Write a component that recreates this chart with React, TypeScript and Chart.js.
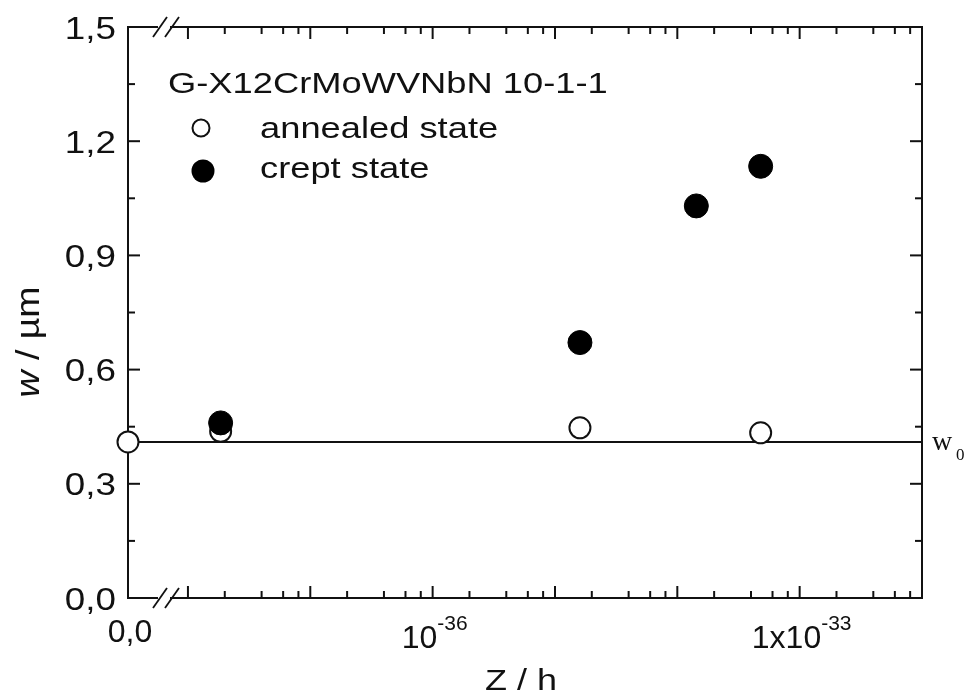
import React, { useEffect, useRef } from "react";
import { Chart, registerables } from "chart.js";

Chart.register(...registerables);

// ---- data ----
const X_MIN = -38.49; // log10 position where Z = 0 sits (axis break)
const X_MAX = -32;
const annealedZ = [0, 1.85e-38, 1.6e-35, 4.8e-34];
const annealedW = [0.41, 0.438, 0.447, 0.434];
const creptZ = [1.85e-38, 1.6e-35, 1.43e-34, 4.8e-34];
const creptW = [0.46, 0.671, 1.03, 1.134];
const W0 = 0.41;
const Y_MAJOR = [0, 0.3, 0.6, 0.9, 1.2, 1.5];
const Y_MINOR = [0.15, 0.45, 0.75, 1.05, 1.35];
const DECADES = [-38, -37, -36, -35, -34, -33, -32];
const MINOR_MULT = [2, 4, 6, 8];
const X_LABELS = [
  { u: X_MIN, base: "0,0", sup: "" },
  { u: -36, base: "10", sup: "-36" },
  { u: -33, base: "1x10", sup: "-33" },
];
const TITLE = "G-X12CrMoWVNbN 10-1-1";
const LEGEND = ["annealed state", "crept state"];

function toU(z: number) {
  return z > 0 ? Math.log10(z) : X_MIN;
}

const SANS = '"Liberation Sans", Arial, sans-serif';
const SERIF = '"Liberation Serif", "Times New Roman", serif';
const INK = "#111";

function drawText(
  ctx: CanvasRenderingContext2D,
  text: string,
  x: number,
  y: number,
  font: string,
  sx: number,
  align: "left" | "center" | "right"
) {
  ctx.save();
  ctx.font = font;
  ctx.textBaseline = "alphabetic";
  ctx.textAlign = "left";
  const w = ctx.measureText(text).width * sx;
  const x0 = align === "left" ? x : align === "center" ? x - w / 2 : x - w;
  ctx.translate(x0, y);
  ctx.scale(sx, 1);
  ctx.fillStyle = INK;
  ctx.fillText(text, 0, 0);
  ctx.restore();
  return w;
}

function seg(ctx: CanvasRenderingContext2D, x1: number, y1: number, x2: number, y2: number) {
  ctx.beginPath();
  ctx.moveTo(x1, y1);
  ctx.lineTo(x2, y2);
  ctx.stroke();
}

const framePlugin = {
  id: "frame",
  beforeDatasetsDraw(chart: any) {
    const ctx: CanvasRenderingContext2D = chart.ctx;
    const { left, right, top, bottom } = chart.chartArea;
    const xs = chart.scales.x;
    const ys = chart.scales.y;
    ctx.save();
    ctx.strokeStyle = INK;
    ctx.lineWidth = 2;
    ctx.lineCap = "square";
    seg(ctx, left, top, left, bottom);
    seg(ctx, right, top, right, bottom);
    ctx.lineCap = "butt";
    const b1 = left + 32;
    const b2 = left + 44;
    for (const yy of [top, bottom]) {
      seg(ctx, left - 1, yy, b1 - 2, yy);
      seg(ctx, b2 - 2, yy, right + 1, yy);
      ctx.lineWidth = 1.8;
      seg(ctx, b1 - 7, yy + 10, b1 + 7, yy - 10);
      seg(ctx, b2 - 7, yy + 10, b2 + 7, yy - 10);
      ctx.lineWidth = 2;
    }
    // x ticks (inward) bottom & top
    const majorU = DECADES;
    const minorU: number[] = [];
    for (const d of DECADES.slice(0, -1)) for (const k of MINOR_MULT) minorU.push(d + Math.log10(k));
    for (const u of majorU) {
      const px = xs.getPixelForValue(u);
      seg(ctx, px, bottom, px, bottom - 12);
      seg(ctx, px, top, px, top + 12);
    }
    for (const u of minorU) {
      const px = xs.getPixelForValue(u);
      seg(ctx, px, bottom, px, bottom - 7);
      seg(ctx, px, top, px, top + 7);
    }
    // y ticks (inward) left & right
    for (const v of Y_MAJOR) {
      const py = ys.getPixelForValue(v);
      seg(ctx, left, py, left + 12, py);
      seg(ctx, right, py, right - 12, py);
    }
    for (const v of Y_MINOR) {
      const py = ys.getPixelForValue(v);
      seg(ctx, left, py, left + 7, py);
      seg(ctx, right, py, right - 7, py);
    }
    ctx.restore();
  },
  afterDraw(chart: any) {
    const ctx: CanvasRenderingContext2D = chart.ctx;
    const { left, right, top, bottom } = chart.chartArea;
    const xs = chart.scales.x;
    const ys = chart.scales.y;
    // y tick labels
    for (const v of Y_MAJOR) {
      const py = ys.getPixelForValue(v);
      drawText(ctx, v.toFixed(1).replace(".", ","), left - 12, py + 11.5, `32px ${SANS}`, 1.15, "right");
    }
    // x tick labels
    for (const l of X_LABELS) {
      const px = xs.getPixelForValue(l.u);
      ctx.save();
      ctx.font = `32px ${SANS}`;
      const wb = ctx.measureText(l.base).width;
      ctx.font = `21px ${SANS}`;
      const ws = l.sup ? ctx.measureText(l.sup).width : 0;
      ctx.restore();
      const x0 = px + 2 - (wb + ws) / 2;
      const base = l.sup ? bottom + 50 : bottom + 44;
      drawText(ctx, l.base, x0, base, `32px ${SANS}`, 1, "left");
      if (l.sup) drawText(ctx, l.sup, x0 + wb, bottom + 32, `21px ${SANS}`, 1, "left");
    }
    // axis titles
    drawText(ctx, "Z / h", (left + right) / 2 - 4, bottom + 92, `30px ${SANS}`, 1.2, "center");
    ctx.save();
    ctx.translate(39, 342);
    ctx.rotate(-Math.PI / 2);
    ctx.font = `italic 30px ${SANS}`;
    const ww = ctx.measureText("w").width;
    ctx.font = `30px ${SANS}`;
    const wr = ctx.measureText(" / µm").width;
    const sAlong = 1.25;
    const tot = (ww + wr) * sAlong;
    ctx.scale(sAlong, 1.1);
    ctx.fillStyle = INK;
    ctx.font = `italic 30px ${SANS}`;
    ctx.fillText("w", -tot / 2 / sAlong, 0);
    ctx.font = `30px ${SANS}`;
    ctx.fillText(" / µm", -tot / 2 / sAlong + ww, 0);
    ctx.restore();
    // w0 label
    drawText(ctx, "w", right + 10, ys.getPixelForValue(W0) + 8, `28px ${SERIF}`, 1, "left");
    drawText(ctx, "0", right + 34, ys.getPixelForValue(W0) + 18, `17px ${SERIF}`, 1, "left");
    // legend
    drawText(ctx, TITLE, left + 40, top + 66, `30px ${SANS}`, 1.21, "left");
    drawText(ctx, LEGEND[0], left + 132, top + 111, `30px ${SANS}`, 1.21, "left");
    drawText(ctx, LEGEND[1], left + 132, top + 151, `30px ${SANS}`, 1.21, "left");
    ctx.save();
    ctx.strokeStyle = INK;
    ctx.lineWidth = 2;
    ctx.fillStyle = "#fff";
    ctx.beginPath();
    ctx.arc(left + 73, top + 101, 8.5, 0, Math.PI * 2);
    ctx.fill();
    ctx.stroke();
    ctx.fillStyle = "#000";
    ctx.beginPath();
    ctx.arc(left + 75, top + 144, 11.5, 0, Math.PI * 2);
    ctx.fill();
    ctx.restore();
  },
};

export default function App() {
  const ref = useRef<HTMLCanvasElement | null>(null);
  useEffect(() => {
    document.body.style.margin = "0";
    const canvas = ref.current;
    if (!canvas) return;
    const chart = new Chart(canvas, {
      type: "scatter",
      data: {
        datasets: [
          {
            label: "crept state",
            data: creptZ.map((z, i) => ({ x: toU(z), y: creptW[i] })),
            pointRadius: 12,
            pointHoverRadius: 12,
            backgroundColor: "#000",
            borderColor: "#000",
            borderWidth: 1,
            clip: false,
            order: 1,
          },
          {
            label: "annealed state",
            data: annealedZ.map((z, i) => ({ x: toU(z), y: annealedW[i] })),
            pointRadius: 10.5,
            pointHoverRadius: 10.5,
            backgroundColor: "#fff",
            borderColor: INK,
            borderWidth: 2,
            clip: false,
            order: 2,
          },
          {
            label: "w0",
            data: [
              { x: X_MIN, y: W0 },
              { x: X_MAX, y: W0 },
            ],
            showLine: true,
            pointRadius: 0,
            borderColor: INK,
            borderWidth: 2,
            clip: false,
            order: 3,
          },
        ],
      },
      options: {
        animation: false,
        responsive: true,
        maintainAspectRatio: false,
        events: [],
        layout: { padding: 0 },
        plugins: { legend: { display: false }, tooltip: { enabled: false } },
        scales: {
          x: {
            type: "linear",
            position: "bottom",
            min: X_MIN,
            max: X_MAX,
            grid: { display: false },
            border: { display: false },
            ticks: { display: false },
            afterFit: (s: any) => {
              s.height = 97;
            },
          },
          x2: {
            type: "linear",
            position: "top",
            min: X_MIN,
            max: X_MAX,
            grid: { display: false },
            border: { display: false },
            ticks: { display: false },
            afterFit: (s: any) => {
              s.height = 27;
            },
          },
          y: {
            type: "linear",
            position: "left",
            min: 0,
            max: 1.5,
            grid: { display: false },
            border: { display: false },
            ticks: { display: false },
            afterFit: (s: any) => {
              s.width = 128;
            },
          },
          y2: {
            type: "linear",
            position: "right",
            min: 0,
            max: 1.5,
            grid: { display: false },
            border: { display: false },
            ticks: { display: false },
            afterFit: (s: any) => {
              s.width = 46;
            },
          },
        },
      } as any,
      plugins: [framePlugin],
    });
    return () => chart.destroy();
  }, []);
  return (
    <div style={{ position: "fixed", left: 0, top: 0, width: 968, height: 695, background: "#fff" }}>
      <canvas ref={ref} />
    </div>
  );
}
